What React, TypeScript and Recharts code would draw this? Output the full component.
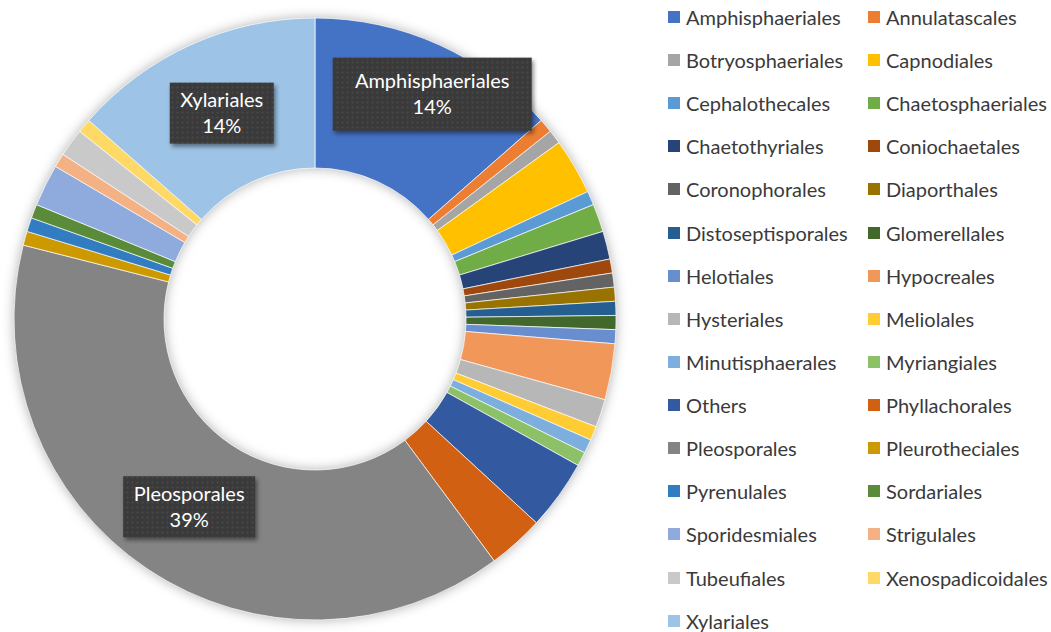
import React from 'react'
import { PieChart, Pie, Cell, Legend } from 'recharts'

const ORDERS = [
  'Amphisphaeriales', 'Annulatascales', 'Botryosphaeriales', 'Capnodiales',
  'Cephalothecales', 'Chaetosphaeriales', 'Chaetothyriales', 'Coniochaetales',
  'Coronophorales', 'Diaporthales', 'Distoseptisporales', 'Glomerellales',
  'Helotiales', 'Hypocreales', 'Hysteriales', 'Meliolales',
  'Minutisphaerales', 'Myriangiales', 'Others', 'Phyllachorales',
  'Pleosporales', 'Pleurotheciales', 'Pyrenulales', 'Sordariales',
  'Sporidesmiales', 'Strigulales', 'Tubeufiales', 'Xenospadicoidales',
  'Xylariales',
]

const COUNTS = [
  18, 1, 1, 4,
  1, 2, 2, 1,
  1, 1, 1, 1,
  1, 4, 2, 1,
  1, 1, 5, 4,
  52, 1, 1, 1,
  3, 1, 2, 1,
  18,
]

const COLORS = [
  '#4472C4', '#ED7D31', '#A5A5A5', '#FFC000', '#5B9BD5', '#70AD47',
  '#264478', '#9E480E', '#636363', '#997300', '#255E91', '#43682B',
  '#698ED0', '#F1975A', '#B7B7B7', '#FFCD33', '#7CAFDD', '#8CC168',
  '#335AA1', '#D26012', '#848484', '#CC9A00', '#327DC2', '#5A8B39',
  '#8FAADC', '#F4B183', '#C9C9C9', '#FFD966', '#9DC3E6',
]

const data = ORDERS.map((name, i) => ({ name, value: COUNTS[i] }))

const FONT = 'Lato, "Open Sans", sans-serif'
const RADIAN = Math.PI / 180

// Excel lets you drag a data label around; this one was moved
const LABEL_ADJUST: Record<string, { dx: number; dy: number; w?: number; h?: number }> = {
  Amphisphaeriales: { dx: 24, dy: -19, w: 199, h: 73 },
}

let ctx: CanvasRenderingContext2D | null = null
const textWidth = (s: string) => {
  if (!ctx) ctx = document.createElement('canvas').getContext('2d')
  if (!ctx) return s.length * 10
  ctx.font = `20px ${FONT}`
  return ctx.measureText(s).width
}

const renderLabel = (props: any) => {
  const { cx, cy, midAngle, innerRadius, outerRadius, percent, name, index } = props
  if (percent < 0.1) return null
  const r = (innerRadius + outerRadius) / 2
  const adj = LABEL_ADJUST[name] || { dx: 0, dy: 0 }
  const x = cx + r * Math.cos(-midAngle * RADIAN) + adj.dx
  const y = cy + r * Math.sin(-midAngle * RADIAN) + adj.dy
  const w = adj.w ?? Math.round(textWidth(name) + 21)
  const h = adj.h ?? 61
  const pid = `dots-${index}`
  return (
    <g key={`lbl-${index}`}>
      <defs>
        <pattern id={pid} width={5} height={5} patternUnits="userSpaceOnUse">
          <rect width={5} height={5} fill="#3a3a3a" />
          <circle cx={2.5} cy={2.5} r={1} fill="#4a4a4a" />
        </pattern>
      </defs>
      <rect
        x={x - w / 2}
        y={y - h / 2}
        width={w}
        height={h}
        fill={`url(#${pid})`}
        style={{ filter: 'drop-shadow(2px 3px 2px rgba(0,0,0,0.45))' }}
      />
      <text x={x} y={y - 6} textAnchor="middle" fill="#ffffff" fontFamily={FONT} fontSize={20}>
        {name}
      </text>
      <text x={x} y={y + 20} textAnchor="middle" fill="#ffffff" fontFamily={FONT} fontSize={20}>
        {`${Math.round(percent * 100)}%`}
      </text>
    </g>
  )
}

const renderLegend = (props: any) => {
  const payload = props.payload || []
  return (
    <div
      style={{
        display: 'grid',
        gridTemplateColumns: '200px 183px',
        gridAutoRows: '43.14px',
        fontFamily: FONT,
        fontSize: 20,
        color: '#3a3a3a',
      }}
    >
      {ORDERS.map((name, i) => {
        const item = payload.find((p: any) => p.value === name)
        return (
          <div key={name} style={{ display: 'flex', alignItems: 'center', whiteSpace: 'nowrap' }}>
            <span
              style={{
                display: 'inline-block',
                width: 12,
                height: 12,
                marginRight: 6,
                background: COLORS[i] || item?.color,
              }}
            />
            <span>{name}</span>
          </div>
        )
      })}
    </div>
  )
}

export default function App() {
  return (
    <div style={{ width: 1051, height: 632, position: 'relative', background: '#fff' }}>
      <style>{`body{margin:0} .recharts-pie{filter:drop-shadow(0 0 6px rgba(0,0,0,0.3))}`}</style>
      <PieChart width={1051} height={632} margin={{ top: 0, right: 0, bottom: 0, left: 0 }}>
        <Pie
          data={data}
          dataKey="value"
          nameKey="name"
          cx={315}
          cy={319}
          innerRadius={151}
          outerRadius={301}
          startAngle={90}
          endAngle={-270}
          stroke="#ffffff"
          strokeWidth={0.7}
          label={renderLabel}
          labelLine={false}
          isAnimationActive={false}
        >
          {data.map((d, i) => (
            <Cell key={d.name} fill={COLORS[i]} />
          ))}
        </Pie>
        <Legend
          layout="vertical"
          align="right"
          verticalAlign="top"
          content={renderLegend}
          wrapperStyle={{ left: 668, top: -4.6, width: 383 }}
        />
      </PieChart>
    </div>
  )
}
